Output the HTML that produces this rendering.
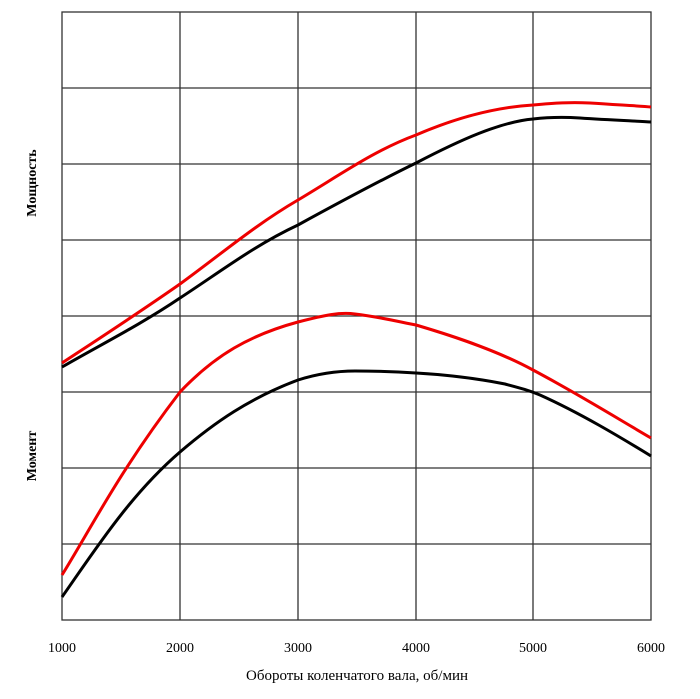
<!DOCTYPE html>
<html><head><meta charset="utf-8"><style>
body{margin:0;background:#fff;}
svg{display:block;}
text{font-family:"Liberation Serif",serif;}
</style></head><body>
<svg width="700" height="699" viewBox="0 0 700 699" xmlns="http://www.w3.org/2000/svg">
<g stroke="#333" stroke-width="1.3" fill="none">
<rect x="62" y="12" width="589" height="608"/>
<line x1="180" y1="12" x2="180" y2="620"/>
<line x1="298" y1="12" x2="298" y2="620"/>
<line x1="416" y1="12" x2="416" y2="620"/>
<line x1="533" y1="12" x2="533" y2="620"/>
<line x1="62" y1="88" x2="651" y2="88"/>
<line x1="62" y1="164" x2="651" y2="164"/>
<line x1="62" y1="240" x2="651" y2="240"/>
<line x1="62" y1="316" x2="651" y2="316"/>
<line x1="62" y1="392" x2="651" y2="392"/>
<line x1="62" y1="468" x2="651" y2="468"/>
<line x1="62" y1="544" x2="651" y2="544"/>
</g>
<g fill="none" stroke-width="3" stroke-linejoin="round">
<path stroke="#e00" d="M62,363 C100,338 140,312 180,284 C220,255 255,225 298,200 C340,175 375,150 416,135 C460,116 500,107 533,105 C555,103 570,102 590,103 C620,105 640,106 651,107"/>
<path stroke="#000" d="M62,367 C100,345 140,325 180,298 C220,272 255,245 298,225 C340,202 375,183 416,163 C460,140 500,122 533,119 C550,117 565,117 580,118 C610,120 635,121 651,122"/>
<path stroke="#e00" d="M62,575 C90,530 120,470 180,392 C215,355 250,335 298,322 C325,315 340,312 355,314 C380,317 400,322 416,325 C460,338 500,352 533,370 C580,395 620,420 651,438"/>
<path stroke="#000" d="M62,597 C95,550 130,495 180,452 C215,422 250,398 298,380 C320,373 340,371 355,371 C380,371 400,372 416,373 C450,375 480,379 505,384 C520,388 528,390 540,395 C580,413 620,437 651,456"/>
</g>
<g font-size="14" fill="#000" text-anchor="middle">
<text x="62" y="652">1000</text>
<text x="180" y="652">2000</text>
<text x="298" y="652">3000</text>
<text x="416" y="652">4000</text>
<text x="533" y="652">5000</text>
<text x="651" y="652">6000</text>
<text x="357" y="680" font-size="15">Обороты коленчатого вала, об/мин</text>
<text transform="translate(36,183) rotate(-90)" font-size="14" font-weight="bold">Мощность</text>
<text transform="translate(36,456) rotate(-90)" font-size="14" font-weight="bold">Момент</text>
</g>
</svg>
</body></html>
